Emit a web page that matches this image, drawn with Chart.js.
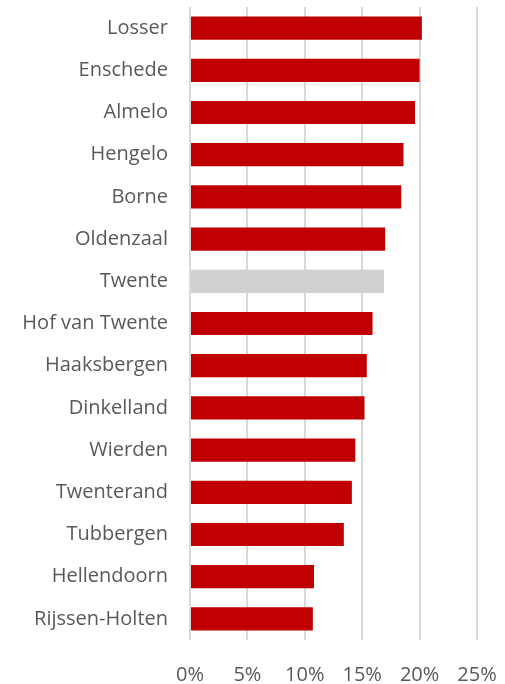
<!DOCTYPE html>
<html>
<head>
<meta charset="utf-8">
<script src="https://cdn.jsdelivr.net/npm/chart.js@4"></script>
<style>
  html, body { margin: 0; padding: 0; background: #fff; overflow: hidden; }
  canvas { display: block; }
</style>
</head>
<body>
<canvas id="chart" width="505" height="684"></canvas>
<script>
// gemeenten, sorted as in the picture
const categories = ['Losser', 'Enschede', 'Almelo', 'Hengelo', 'Borne', 'Oldenzaal', 'Twente',
    'Hof van Twente', 'Haaksbergen', 'Dinkelland', 'Wierden', 'Twenterand', 'Tubbergen',
    'Hellendoorn', 'Rijssen-Holten'];
const values = [20.2, 20.0, 19.6, 18.6, 18.4, 17.0, 16.9, 15.9, 15.4, 15.2, 14.4, 14.1, 13.4, 10.8, 10.7];
const xTicks = [0, 5, 10, 15, 20, 25];

const colors = categories.map(c => c === 'Twente' ? '#d0d0d0' : '#c00000');

let ctx = document.getElementById('chart').getContext('2d');
new Chart(ctx, {
    type: 'bar',
    data: {
        labels: categories,
        datasets: [{
            data: values,
            backgroundColor: colors,
            borderWidth: 0,
            barPercentage: 0.55,
            categoryPercentage: 1
        }]
    },
    options: {
        indexAxis: 'y',
        responsive: false,
        animation: false,
        layout: { padding: { top: 7, right: 28, left: 0, bottom: 0 } },
        plugins: { legend: { display: false }, tooltip: { enabled: false } },
        scales: {
            x: {
                min: 0,
                max: 25,
                afterBuildTicks: scale => { scale.ticks = xTicks.map(v => ({ value: v })); },
                afterFit: scale => { scale.height = 44; },
                // tick marks are invisible, they only push the labels down
                grid: { color: '#d9d9d9', lineWidth: 2, drawTicks: true, tickLength: 23, tickColor: 'rgba(0,0,0,0)' },
                border: { display: false },
                ticks: {
                    padding: 0,
                    color: '#595959',
                    font: { family: 'Open Sans', size: 20 },
                    callback: v => v + '%'
                }
            },
            y: {
                afterFit: scale => { scale.width = 190; },
                grid: { display: false, drawTicks: true, tickLength: 22 },
                border: { display: false },
                ticks: {
                    padding: 0,
                    color: '#595959',
                    font: { family: 'Open Sans', size: 20, lineHeight: 0.7 }
                }
            }
        }
    }
});
</script>
</body>
</html>
